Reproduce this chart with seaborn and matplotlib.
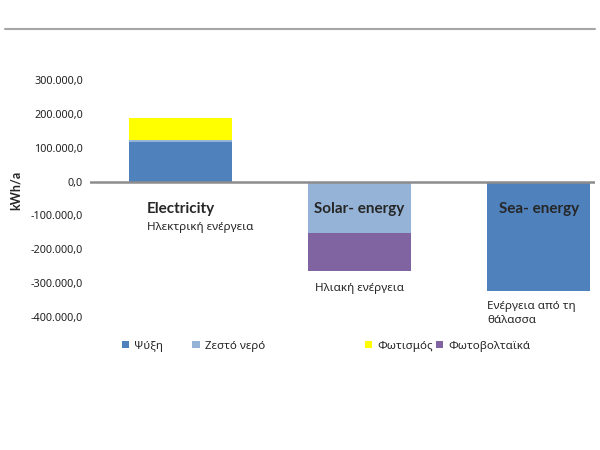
import numpy as np
import seaborn as sns
import matplotlib.pyplot as plt
from matplotlib.lines import Line2D
from matplotlib.ticker import FuncFormatter

# data (kWh/a)
categories = ['Electricity', 'Solar- energy', 'Sea- energy']
series_names = ['Ψύξη', 'Ζεστό νερό', 'Φωτισμός', 'Φωτοβολταϊκά']
psyxi = [116000, 0, -322000]
zesto_nero = [8000, -152000, 0]
fotismos = [63000, 0, 0]
fotovoltaika = [0, -112000, 0]
colors = ['#4F81BD', '#95B3D7', '#FFFF00', '#8064A2']

greek_labels = ['Ηλεκτρική ενέργεια', 'Ηλιακή ενέργεια', 'Ενέργεια από τη\nθάλασσα']
yticks = [300000, 200000, 100000, 0, -100000, -200000, -300000, -400000]

sns.set_style('white')
plt.rcParams['font.family'] = ['Noto Sans', 'DejaVu Sans']
bold_font = ['Lato', 'Liberation Sans', 'DejaVu Sans']

fig = plt.figure(figsize=(6, 4.5), dpi=100)
ax = fig.add_axes([0.15, 0.2956, 0.842, 0.5267])

# stacked bars, positives and negatives stacked separately
pos_base = np.zeros(len(categories))
neg_base = np.zeros(len(categories))
for name, vals, c in zip(series_names, [psyxi, zesto_nero, fotismos, fotovoltaika], colors):
    vals = np.array(vals, dtype=float)
    bottom = np.where(vals >= 0, pos_base, neg_base)
    sns.barplot(x=categories, y=vals, bottom=bottom, color=c, width=0.575,
                errorbar=None, label=name, linewidth=0, saturation=1, ax=ax)
    pos_base = pos_base + np.clip(vals, 0, None)
    neg_base = neg_base + np.clip(vals, None, 0)

if ax.get_legend() is not None:
    ax.get_legend().remove()

ax.set_xlim(-0.505, 2.316)
ax.set_ylim(-400000, 300000)
ax.set_yticks(yticks)
ax.yaxis.set_major_formatter(FuncFormatter(
    lambda v, p: f"{v:,.1f}".replace(',', 'X').replace('.', ',').replace('X', '.')))
ax.tick_params(axis='y', length=0, pad=5, labelsize=7.8, colors='#222222')
ax.set_xticks([])
ax.set_xlabel('')
for s in ax.spines.values():
    s.set_visible(False)
ax.axhline(0, color='#8C8C8C', lw=1.8, zorder=5)

ax.set_ylabel('kWh/a', fontsize=9, fontweight='bold', family=bold_font)
ax.yaxis.set_label_coords(-0.135, 0.536)

# category labels
ax.text(-0.187, -82000, categories[0], fontsize=11, fontweight='bold', family=bold_font,
        ha='left', va='center')
ax.text(-0.187, -135000, greek_labels[0], fontsize=8.4, ha='left', va='center')
ax.text(1, -80000, categories[1], fontsize=11, fontweight='bold', family=bold_font,
        ha='center', va='center', zorder=6)
ax.text(1, -315000, greek_labels[1], fontsize=8.4, ha='center', va='center')
ax.text(2, -80000, categories[2], fontsize=11, fontweight='bold', family=bold_font,
        ha='center', va='center', zorder=6)
ax.text(1.712, -390000, greek_labels[2], fontsize=8.4, ha='left', va='center', linespacing=1.35)

# legend split in two groups like the original
handles, labels = ax.get_legend_handles_labels()
leg_kw = dict(frameon=False, fontsize=8.3, handlelength=0.65, handleheight=0.65,
              handletextpad=0.45, borderpad=0, borderaxespad=0,
              loc='center left', bbox_transform=fig.transFigure, ncol=2)
leg1 = ax.legend(handles[:2], labels[:2], bbox_to_anchor=(0.203, 0.231),
                 columnspacing=2.5, **leg_kw)
ax.add_artist(leg1)
ax.legend(handles[2:], labels[2:], bbox_to_anchor=(0.608, 0.231),
          columnspacing=0.25, **leg_kw)

# top rule line
fig.add_artist(Line2D([5 / 600, 595 / 600], [0.9356, 0.9356], color='#A6A6A6', lw=1.5))

fig.savefig('out.png', dpi=100)
